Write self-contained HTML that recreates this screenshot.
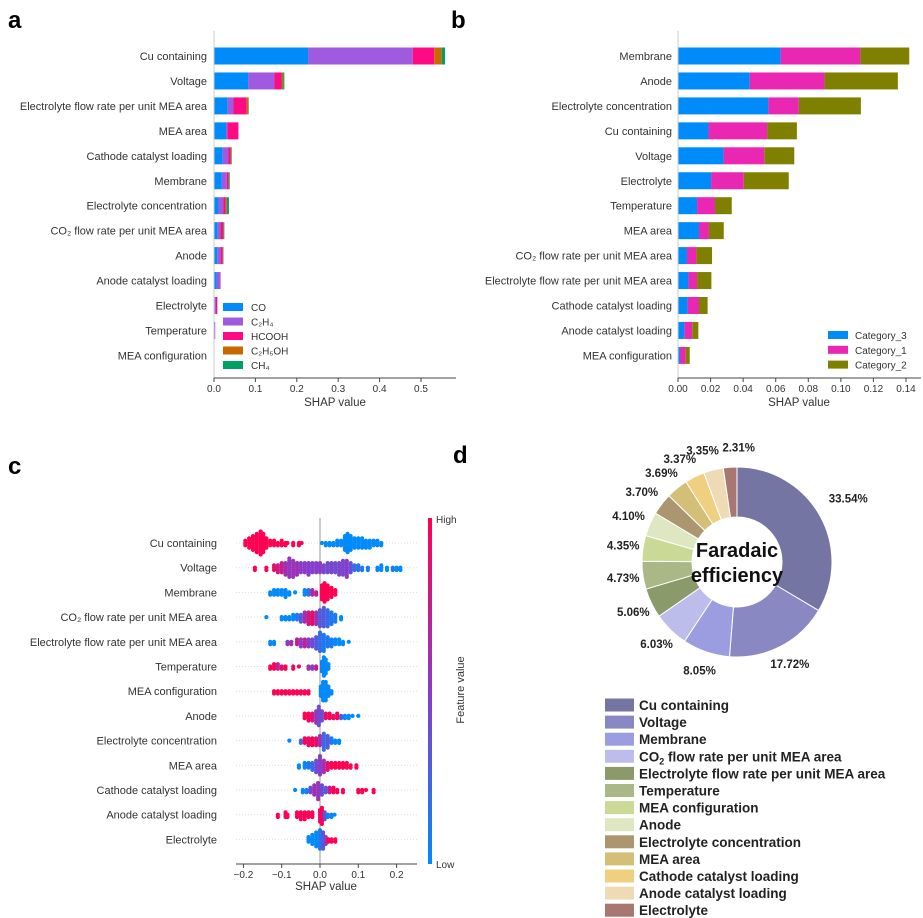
<!DOCTYPE html>
<html><head><meta charset="utf-8"><style>
html,body{margin:0;padding:0;background:#fff}
svg{display:block;font-family:"Liberation Sans",Arial,sans-serif}
</style></head><body>
<svg id="fig" width="923" height="918" viewBox="0 0 923 918">
<defs>
<linearGradient id="cbar" x1="0" y1="1" x2="0" y2="0">
<stop offset="0" stop-color="#008afb"/><stop offset="0.5" stop-color="#8a3cc8"/><stop offset="1" stop-color="#ff0052"/>
</linearGradient>
</defs>
<text x="8" y="28" font-size="24" font-weight="bold">a</text>
<text x="451" y="28" font-size="24" font-weight="bold">b</text>
<text x="8" y="474" font-size="24" font-weight="bold">c</text>
<text x="453" y="463" font-size="24" font-weight="bold">d</text>
<g id="pa"></g>
<g id="pb"></g>
<g id="pc"></g>
<g id="pd"></g>
</svg>
<script>
// ---------- Panel a data ----------
const aFeatures = ["Cu containing","Voltage","Electrolyte flow rate per unit MEA area","MEA area","Cathode catalyst loading","Membrane","Electrolyte concentration","CO₂ flow rate per unit MEA area","Anode","Anode catalyst loading","Electrolyte","Temperature","MEA configuration"];
const aSeries = ["CO","C₂H₄","HCOOH","C₂H₅OH","CH₄"];
const aCO     = [0.228,0.083,0.033,0.030,0.021,0.019,0.011,0.009,0.008,0.007,0.002,0.001,0.000];
const aC2H4   = [0.252,0.063,0.014,0.002,0.014,0.012,0.012,0.006,0.008,0.008,0.002,0.002,0.001];
const aHCOOH  = [0.052,0.017,0.032,0.027,0.005,0.004,0.005,0.007,0.005,0.001,0.004,0.000,0.000];
const aC2H5OH = [0.018,0.004,0.004,0.000,0.002,0.001,0.003,0.001,0.001,0.000,0.000,0.000,0.000];
const aCH4    = [0.008,0.003,0.001,0.000,0.001,0.002,0.005,0.002,0.001,0.000,0.000,0.000,0.000];
const aTicks  = [0,0.1,0.2,0.3,0.4,0.5];
const aTickLabels = ["0.0","0.1","0.2","0.3","0.4","0.5"];
// ---------- Panel b data ----------
const bFeatures = ["Membrane","Anode","Electrolyte concentration","Cu containing","Voltage","Electrolyte","Temperature","MEA area","CO₂ flow rate per unit MEA area","Electrolyte flow rate per unit MEA area","Cathode catalyst loading","Anode catalyst loading","MEA configuration"];
const bSeries = ["Category_3","Category_1","Category_2"];
const bCat3 = [0.063,0.044,0.0555,0.0187,0.028,0.0203,0.0117,0.0129,0.0055,0.0064,0.0059,0.0039,0.0012];
const bCat1 = [0.049,0.046,0.0187,0.036,0.025,0.0201,0.011,0.0061,0.0058,0.0053,0.007,0.0049,0.0035];
const bCat2 = [0.030,0.045,0.0381,0.0183,0.0184,0.0276,0.0103,0.0091,0.0096,0.0088,0.0053,0.0037,0.0025];
const bTicks = [0,0.02,0.04,0.06,0.08,0.10,0.12,0.14];
const bTickLabels = ["0.00","0.02","0.04","0.06","0.08","0.10","0.12","0.14"];
// ---------- Panel c data: groups [shap, featureValue, count] ----------
const cFeatures = ["Cu containing","Voltage","Membrane","CO₂ flow rate per unit MEA area","Electrolyte flow rate per unit MEA area","Temperature","MEA configuration","Anode","Electrolyte concentration","MEA area","Cathode catalyst loading","Anode catalyst loading","Electrolyte"];
const cCu = [[-0.195,1,3],[-0.185,1,5],[-0.175,1,7],[-0.165,1,9],[-0.155,1,11],[-0.148,1,9],[-0.14,1,5],[-0.13,1,3],[-0.12,1,3],[-0.11,1,2],[-0.1,1,3],[-0.09,1,2],[-0.085,1,1],[-0.07,1,2],[-0.055,1,2],[-0.048,1,1],[0.005,0,1],[0.015,0,2],[0.025,0,2],[0.035,0,2],[0.045,0,3],[0.055,0,3],[0.065,0,7],[0.072,0,9],[0.08,0,7],[0.09,0,5],[0.1,0,5],[0.11,0,5],[0.12,0,4],[0.13,0,4],[0.14,0,3],[0.15,0,3],[0.16,0,2]];
const cVoltage = [[-0.17,1,2],[-0.14,1,2],[-0.12,0.9,3],[-0.11,0.8,4],[-0.1,0.75,5],[-0.09,0.6,6],[-0.08,0.55,9],[-0.07,0.55,8],[-0.06,0.6,6],[-0.05,0.5,5],[-0.04,0.5,5],[-0.03,0.5,6],[-0.02,0.45,5],[-0.01,0.5,5],[0.0,0.5,5],[0.01,0.45,4],[0.02,0.4,5],[0.03,0.45,5],[0.04,0.4,5],[0.05,0.45,6],[0.06,0.45,7],[0.07,0.5,8],[0.08,0.35,5],[0.09,0.2,3],[0.1,0.15,3],[0.11,0.1,2],[0.125,0.1,2],[0.15,0,2],[0.16,0,3],[0.175,0,2],[0.19,0.1,2],[0.2,0,2],[0.21,0,2]];
const cMembrane = [[-0.13,0,2],[-0.12,0,3],[-0.11,0,3],[-0.1,0,3],[-0.09,0,4],[-0.08,0,2],[-0.065,0,1],[-0.04,0,3],[-0.03,0.2,3],[-0.02,0.6,3],[-0.01,0.8,2],[0.005,1,7],[0.012,1,9],[0.02,1,7],[0.03,1,5],[0.04,1,3]];
const cCO2 = [[-0.14,0,1],[-0.1,0,2],[-0.09,0,2],[-0.08,0,2],[-0.07,0,3],[-0.06,0.1,3],[-0.05,0.3,4],[-0.04,0.6,5],[-0.03,0.8,6],[-0.02,0.9,6],[-0.01,0.6,6],[0.0,0.3,8],[0.01,0.3,9],[0.02,0.2,8],[0.03,0.1,6],[0.04,0.1,4],[0.055,0,2]];
const cElecFlow = [[-0.13,0,2],[-0.12,0,2],[-0.085,0.5,2],[-0.075,0.6,2],[-0.06,0.8,3],[-0.05,0.5,4],[-0.04,0.7,4],[-0.03,0.5,4],[-0.02,0.4,4],[-0.01,0.3,6],[0.0,0.2,9],[0.01,0.1,8],[0.02,0.1,5],[0.03,0.1,4],[0.04,0,3],[0.05,0,3],[0.06,0,2],[0.075,0,1]];
const cTemp = [[-0.13,1,2],[-0.12,1,3],[-0.11,0.7,3],[-0.1,0.9,2],[-0.09,1,2],[-0.07,1,2],[-0.055,1,1],[-0.03,0.6,2],[-0.02,0.5,2],[-0.01,0.8,2],[0.005,0.1,5],[0.01,0,9],[0.015,0,7],[0.022,0,3]];
const cMEAConfig = [[-0.12,1,2],[-0.11,1,2],[-0.1,1,2],[-0.09,1,2],[-0.08,1,2],[-0.07,1,2],[-0.06,1,2],[-0.05,1,2],[-0.04,1,2],[-0.03,1,2],[0.002,0,5],[0.008,0,9],[0.015,0,9],[0.022,0,5],[0.03,0,2]];
const cAnode = [[-0.04,1,3],[-0.03,1,4],[-0.02,0.8,4],[-0.01,0.6,6],[-0.003,0.4,9],[0.005,0.4,5],[0.015,0.9,3],[0.025,1,3],[0.035,0.9,2],[0.045,1,3],[0.055,0.3,2],[0.065,0,2],[0.075,0,2],[0.085,0,1],[0.1,0,1]];
const cElecConc = [[-0.08,0,1],[-0.05,0.2,2],[-0.04,1,3],[-0.03,0.9,4],[-0.02,1,4],[-0.01,0.9,4],[0.0,0.6,5],[0.01,0.2,8],[0.02,0.3,6],[0.03,0.1,3],[0.04,0,2],[0.05,0,2]];
const cMEAArea = [[-0.055,0,2],[-0.04,0,3],[-0.03,0.1,3],[-0.02,0.2,4],[-0.01,0.4,6],[0.0,0.5,9],[0.01,0.6,6],[0.02,0.9,4],[0.03,1,3],[0.04,1,3],[0.05,1,3],[0.06,1,3],[0.07,1,3],[0.08,1,2],[0.095,1,2]];
const cCathode = [[-0.065,0,1],[-0.045,0,2],[-0.035,0.1,2],[-0.025,0.4,3],[-0.015,0.6,5],[-0.005,0.55,8],[0.005,0.4,5],[0.015,0.3,3],[0.025,0.8,3],[0.035,1,3],[0.045,1,2],[0.06,1,2],[0.1,1,2],[0.11,1,2],[0.12,1,1],[0.14,1,2]];
const cAnodeCat = [[-0.11,1,2],[-0.09,1,3],[-0.085,1,2],[-0.06,1,3],[-0.05,1,4],[-0.04,1,4],[-0.03,1,3],[-0.02,1,3],[0.0,0.9,6],[0.005,1,8],[0.012,0.4,4],[0.02,0,2],[0.03,0,2],[0.038,0,1]];
const cElectrolyte = [[-0.03,0,3],[-0.02,0,5],[-0.01,0,7],[0.0,0.1,9],[0.008,0.3,8],[0.015,0.5,4],[0.022,1,2],[0.03,1,2],[0.04,1,2]];
const cTicks = [-0.2,-0.1,0,0.1,0.2];
const cTickLabels = ["−0.2","−0.1","0.0","0.1","0.2"];
// ---------- Panel d data ----------
const dLabels = ["Cu containing","Voltage","Membrane","CO2 flow rate per unit MEA area","Electrolyte flow rate per unit MEA area","Temperature","MEA configuration","Anode","Electrolyte concentration","MEA area","Cathode catalyst loading","Anode catalyst loading","Electrolyte"];
const dValues = [33.54,17.72,8.05,6.03,5.06,4.73,4.35,4.10,3.70,3.69,3.37,3.35,2.31];
const dValueLabels = ["33.54%","17.72%","8.05%","6.03%","5.06%","4.73%","4.35%","4.10%","3.70%","3.69%","3.37%","3.35%","2.31%"];

const NS="http://www.w3.org/2000/svg";
function mk(parent,tag,attrs,text){const e=document.createElementNS(NS,tag);for(const k in attrs)e.setAttribute(k,attrs[k]);if(text!==undefined)e.textContent=text;parent.appendChild(e);return e;}

// ---------- Panel a ----------
(function(){
const g=document.getElementById('pa');
const x0=214, sc=414, y0=56, dy=24.95, bh=17, axB=378;
const xa=v=>x0+v*sc, ya=i=>y0+i*dy;
const cols=["#008bfb","#a05ae0","#ff0a85","#c86a00","#00a064"];
const series=[aCO,aC2H4,aHCOOH,aC2H5OH,aCH4];
aFeatures.forEach((f,i)=>{
  const t=mk(g,'text',{x:207,y:ya(i)+4,'font-size':11,fill:'#333','text-anchor':'end'},f);
  
  
  let acc=0;
  series.forEach((s,k)=>{
    const r=mk(g,'rect',{x:xa(acc),y:ya(i)-bh/2,width:Math.max(0,s[i]*sc),height:bh,fill:cols[k]});
    
    
    acc+=s[i];
  });
});
mk(g,'line',{x1:x0,y1:31,x2:x0,y2:axB,stroke:'#ccc','stroke-width':1});
mk(g,'line',{x1:x0,y1:axB,x2:456,y2:axB,stroke:'#444','stroke-width':1});
aTicks.forEach((t,i)=>{
  mk(g,'line',{x1:xa(t),y1:axB,x2:xa(t),y2:axB+4,stroke:'#444'});
  const l=mk(g,'text',{x:xa(t),y:axB+14,'font-size':10,fill:'#333','text-anchor':'middle'},aTickLabels[i]);
  
  
});
const xt=mk(g,'text',{x:335,y:406,'font-size':11.5,fill:'#333','text-anchor':'middle'},'SHAP value');


aSeries.forEach((s,k)=>{
  const y=307+k*14.5;
  const sw=mk(g,'rect',{x:223,y:y-4,width:20,height:8,fill:cols[k]});
  
  
  const lt=mk(g,'text',{x:251,y:y+4,'font-size':10,fill:'#333'},s);
  
  
});
})();

// ---------- Panel b ----------
(function(){
const g=document.getElementById('pb');
const x0=678, sc=1628.6, y0=56, dy=24.95, bh=17, axB=378;
const xb=v=>x0+v*sc, yb=i=>y0+i*dy;
const cols=["#008bfb","#ea27b2","#808000"];
const series=[bCat3,bCat1,bCat2];
bFeatures.forEach((f,i)=>{
  const t=mk(g,'text',{x:672,y:yb(i)+4,'font-size':11,fill:'#333','text-anchor':'end'},f);
  
  
  let acc=0;
  series.forEach((s,k)=>{
    const r=mk(g,'rect',{x:xb(acc),y:yb(i)-bh/2,width:s[i]*sc,height:bh,fill:cols[k]});
    
    
    acc+=s[i];
  });
});
mk(g,'line',{x1:x0,y1:31,x2:x0,y2:axB,stroke:'#ccc','stroke-width':1});
mk(g,'line',{x1:x0,y1:axB,x2:921,y2:axB,stroke:'#444','stroke-width':1});
bTicks.forEach((t,i)=>{
  mk(g,'line',{x1:xb(t),y1:axB,x2:xb(t),y2:axB+4,stroke:'#444'});
  const l=mk(g,'text',{x:xb(t),y:axB+14,'font-size':10,fill:'#333','text-anchor':'middle'},bTickLabels[i]);
  
  
});
const xt=mk(g,'text',{x:799,y:406,'font-size':11.5,fill:'#333','text-anchor':'middle'},'SHAP value');


bSeries.forEach((s,k)=>{
  const y=335+k*14.8;
  const sw=mk(g,'rect',{x:828,y:y-4,width:20,height:8,fill:cols[k]});
  
  
  const lt=mk(g,'text',{x:855,y:y+4,'font-size':10,fill:'#333'},s);
  
  
});
})();

// ---------- Panel c ----------
(function(){
const g=document.getElementById('pc');
const x0=320, sc=383, y0=543, dy=24.7, axB=864;
const xc=v=>x0+v*sc, yc=i=>y0+i*dy;
const rows=[cCu,cVoltage,cMembrane,cCO2,cElecFlow,cTemp,cMEAConfig,cAnode,cElecConc,cMEAArea,cCathode,cAnodeCat,cElectrolyte];
function col(v){
  const a=[0,138,251],m=[138,60,200],b=[255,0,82];
  let c;
  if(v<0.5){const t=v/0.5;c=a.map((q,i)=>Math.round(q+(m[i]-q)*t));}
  else{const t=(v-0.5)/0.5;c=m.map((q,i)=>Math.round(q+(b[i]-q)*t));}
  return 'rgb('+c.join(',')+')';
}
mk(g,'line',{x1:x0,y1:518,x2:x0,y2:axB,stroke:'#999','stroke-width':1});
cFeatures.forEach((f,i)=>{
  mk(g,'line',{x1:236,y1:yc(i),x2:417,y2:yc(i),stroke:'#ddd','stroke-width':1,'stroke-dasharray':'1,2'});
  const t=mk(g,'text',{x:217,y:yc(i)+4,'font-size':11,fill:'#333','text-anchor':'end'},f);
  
  
  rows[i].forEach(p=>{
    for(let k=0;k<p[2];k++){
      const off=(k%2?1:-1)*Math.ceil(k/2)*2.3;
      const c=mk(g,'circle',{cx:xc(p[0]),cy:yc(i)+off,r:2.1,fill:col(p[1])});
      
      
    }
  });
});
mk(g,'line',{x1:236,y1:axB,x2:417,y2:axB,stroke:'#444','stroke-width':1});
cTicks.forEach((t,i)=>{
  mk(g,'line',{x1:xc(t),y1:axB,x2:xc(t),y2:axB+4,stroke:'#444'});
  const l=mk(g,'text',{x:xc(t),y:axB+14,'font-size':10,fill:'#333','text-anchor':'middle'},cTickLabels[i]);
  
  
});
const xt=mk(g,'text',{x:326,y:890,'font-size':11.5,fill:'#333','text-anchor':'middle'},'SHAP value');


const cb=mk(g,'rect',{x:428,y:518,width:4,height:346,fill:'url(#cbar)'});


const hi=mk(g,'text',{x:436,y:523,'font-size':10,fill:'#333'},'High');


const lo=mk(g,'text',{x:436,y:868,'font-size':10,fill:'#333'},'Low');


const fv=mk(g,'text',{x:464,y:690,'font-size':11,fill:'#333','text-anchor':'middle',transform:'rotate(-90 464 690)'},'Feature value');


})();

// ---------- Panel d ----------
(function(){
const g=document.getElementById('pd');
const cx=737, cy=562, R=95, r=45;
const cols=["#7575a3","#8a88c2","#9c9de0","#bcbdea","#8b9a6b","#a9b886","#cad996","#dfe7c2","#ab9670","#d4bf78","#efcf80","#eedbb5","#a97772"];
const nudgeX=[0,0,0,0,0,0,0,-3,-4,-3,-6,-6,10];
const total=dValues.reduce((a,b)=>a+b,0);
let acc=0;
const pt=(ang,rad)=>[cx+Math.sin(ang)*rad, cy-Math.cos(ang)*rad];
dValues.forEach((v,i)=>{
  const a0=acc/total*2*Math.PI, a1=(acc+v)/total*2*Math.PI;
  const large=(a1-a0)>Math.PI?1:0;
  const p0=pt(a0,R),p1=pt(a1,R),q1=pt(a1,r),q0=pt(a0,r);
  const d=`M${p0[0]},${p0[1]} A${R},${R} 0 ${large} 1 ${p1[0]},${p1[1]} L${q1[0]},${q1[1]} A${r},${r} 0 ${large} 0 ${q0[0]},${q0[1]} Z`;
  const s=mk(g,'path',{d:d,fill:cols[i],stroke:'#fff','stroke-width':1});
  
  
  const am=(a0+a1)/2;
  const lr= i===0?128:115;
  const lp=pt(am,lr);
  const t=mk(g,'text',{x:lp[0]+nudgeX[i],y:lp[1]+4,'font-size':11.5,'font-weight':'bold',fill:'#222','text-anchor':'middle'},dValueLabels[i]);
  
  
  acc+=v;
});
const c1=mk(g,'text',{x:cx,y:cy-5,'font-size':20,'font-weight':'bold',fill:'#111','text-anchor':'middle'},'Faradaic');


const c2=mk(g,'text',{x:cx,y:cy+20,'font-size':20,'font-weight':'bold',fill:'#111','text-anchor':'middle'},'efficiency');


dLabels.forEach((lab,i)=>{
  const y=705+i*17.1;
  const sw=mk(g,'rect',{x:605,y:y-6.5,width:29,height:13,fill:cols[i]});
  
  
  const t=mk(g,'text',{x:639,y:y+5,'font-size':13.5,'font-weight':'bold',fill:'#222'});
  
  
  if(lab.startsWith('CO2')){
    t.appendChild(document.createTextNode('CO'));
    mk(t,'tspan',{'font-size':9,dy:3},'2');
    mk(t,'tspan',{dy:-3},lab.slice(3));
  } else t.textContent=lab;
});
})();
</script>
</body></html>
